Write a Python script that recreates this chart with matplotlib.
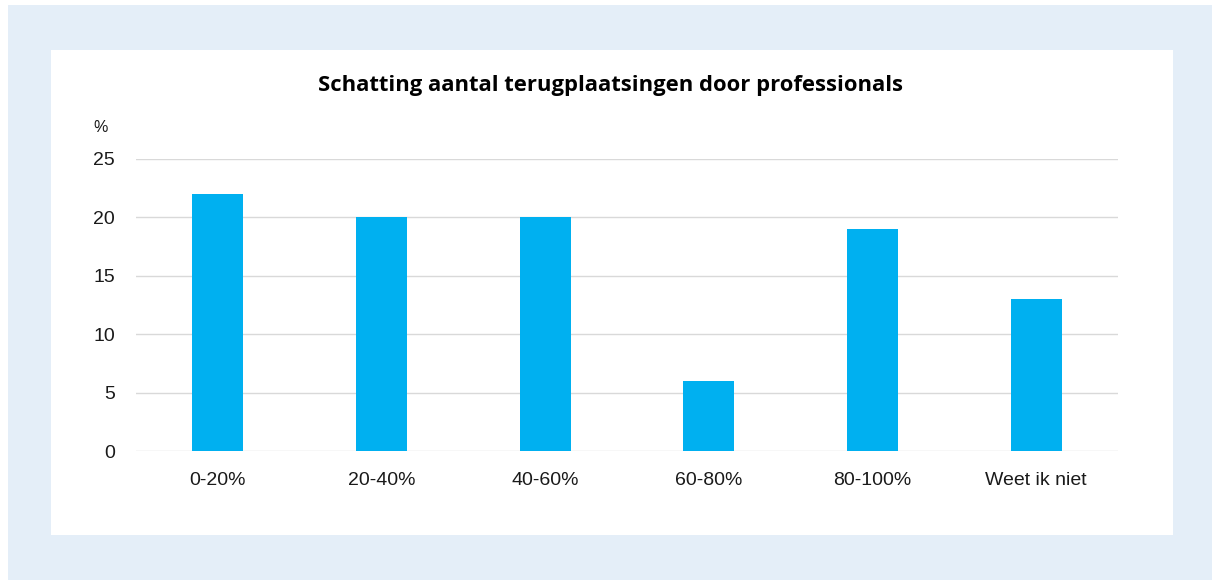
import matplotlib
matplotlib.use("Agg")
import matplotlib.pyplot as plt
from matplotlib.patches import Rectangle

# Data
categories = ["0-20%", "20-40%", "40-60%", "60-80%", "80-100%", "Weet ik niet"]
values = [22, 20, 20, 6, 19, 13]
y_ticks = [0, 5, 10, 15, 20, 25]

W, H = 1212, 580
fig = plt.figure(figsize=(W / 100, H / 100), dpi=100)
fig.patch.set_facecolor("white")

# Light blue outer frame and white inner panel (drawn behind the axes)
fig.patches.append(Rectangle((8 / W, 0), (W - 8) / W, (H - 5) / H,
                             transform=fig.transFigure, facecolor="#e4eef8",
                             edgecolor="none", zorder=-2))
fig.patches.append(Rectangle((51 / W, 45 / H), 1122 / W, 485 / H,
                             transform=fig.transFigure, facecolor="white",
                             edgecolor="none", zorder=-1))

ax = fig.add_axes([136 / W, 129 / H, 982 / W, 292 / H])
ax.set_facecolor("none")

x = range(len(categories))
ax.bar(x, values, width=0.31, color="#00b0f0", zorder=3)

ax.set_xlim(-0.5, len(categories) - 0.5)
ax.set_ylim(0, 25)
ax.set_yticks(y_ticks)
ax.set_xticks(list(x))
ax.set_xticklabels(categories)
ax.grid(axis="y", color="#d9d9d9", linewidth=1, zorder=0)
ax.set_axisbelow(True)
for s in ax.spines.values():
    s.set_visible(False)
ax.tick_params(axis="both", length=0, labelsize=14, colors="#1a1a1a",
               labelfontfamily="Liberation Sans")
ax.tick_params(axis="y", pad=15)
ax.tick_params(axis="x", pad=15)

fig.text(101 / W, 1 - 127 / H, "%", fontsize=11.5, color="#1a1a1a",
         family="Liberation Sans", ha="center", va="center")
fig.text(611 / W, 1 - 85 / H, "Schatting aantal terugplaatsingen door professionals",
         fontsize=15.8, fontweight="bold", color="black", family="Open Sans",
         ha="center", va="center")

fig.savefig("out.png", dpi=100)
